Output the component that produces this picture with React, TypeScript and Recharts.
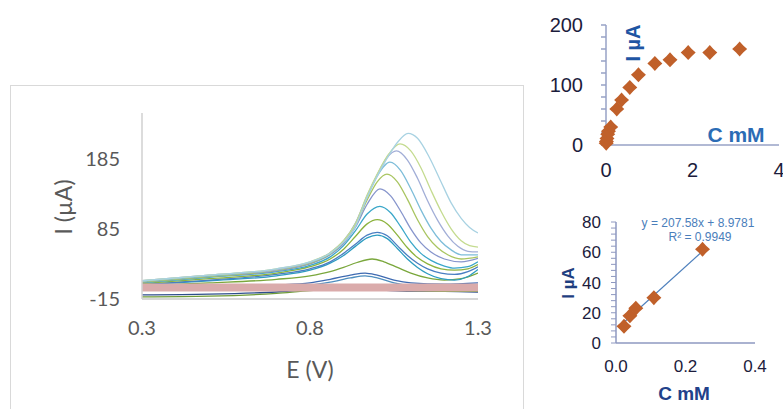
import React from 'react';
import { LineChart, Line, XAxis, YAxis, ScatterChart, Scatter, ComposedChart } from 'recharts';

// ---- main voltammogram (E in V, I in µA) ----
const eTicks = [0.3, 0.8, 1.3];
const iTicks = [-15, 85, 185];

const lightBlueE = [0.3, 0.5, 0.7, 0.8, 0.86, 0.9, 0.935, 0.97, 1.0, 1.03, 1.06, 1.092, 1.12, 1.155, 1.187, 1.22, 1.25, 1.275, 1.3];
const lightBlueI = [11, 19, 28, 38, 50, 66, 88, 130, 160, 186, 208, 221, 214, 187, 155, 122, 100, 87, 79];

const lightGreenE = [0.3, 0.5, 0.7, 0.8, 0.86, 0.9, 0.935, 0.97, 1.0, 1.035, 1.068, 1.1, 1.13, 1.16, 1.19, 1.22, 1.25, 1.275, 1.3];
const lightGreenI = [11, 19, 28, 38, 51, 68, 92, 133, 163, 192, 206, 196, 172, 140, 110, 85, 68, 61, 59];

const lavenderE = [0.3, 0.5, 0.7, 0.8, 0.86, 0.9, 0.935, 0.97, 1.0, 1.03, 1.057, 1.09, 1.12, 1.15, 1.18, 1.21, 1.24, 1.27, 1.3];
const lavenderI = [11, 19, 27, 37, 51, 68, 93, 132, 162, 187, 196, 183, 157, 125, 97, 75, 60, 53, 52];

const skyE = [0.3, 0.5, 0.7, 0.8, 0.86, 0.9, 0.935, 0.97, 1.0, 1.038, 1.07, 1.1, 1.13, 1.16, 1.19, 1.22, 1.25, 1.3];
const skyI = [10, 18, 27, 37, 50, 67, 92, 130, 160, 180, 168, 142, 112, 86, 67, 55, 48, 48];

const yellowGreenE = [0.3, 0.5, 0.7, 0.8, 0.86, 0.9, 0.935, 0.97, 1.0, 1.029, 1.06, 1.09, 1.12, 1.15, 1.18, 1.21, 1.25, 1.3];
const yellowGreenI = [9, 17, 26, 36, 49, 66, 90, 126, 152, 163, 152, 127, 98, 74, 58, 48, 42, 45];

const purpleBlueE = [0.3, 0.5, 0.7, 0.8, 0.86, 0.9, 0.935, 0.97, 1.008, 1.04, 1.07, 1.1, 1.13, 1.16, 1.2, 1.25, 1.3];
const purpleBlueI = [9, 17, 25, 35, 48, 64, 87, 120, 142, 132, 110, 85, 65, 52, 42, 38, 43];

const tealE = [0.3, 0.5, 0.7, 0.8, 0.86, 0.9, 0.935, 0.97, 1.008, 1.04, 1.07, 1.1, 1.13, 1.16, 1.2, 1.23, 1.27, 1.3];
const tealI = [8, 16, 24, 33, 45, 61, 82, 106, 117, 108, 88, 66, 50, 40, 32, 29, 31, 38];

const oliveE = [0.3, 0.5, 0.7, 0.8, 0.86, 0.9, 0.935, 0.97, 1.0, 1.03, 1.06, 1.09, 1.12, 1.15, 1.19, 1.23, 1.27, 1.3];
const oliveI = [7, 14, 22, 31, 42, 56, 74, 92, 98, 92, 76, 58, 44, 35, 28, 26, 28, 34];

const blueE = [0.3, 0.5, 0.7, 0.8, 0.86, 0.9, 0.935, 0.97, 1.0, 1.03, 1.06, 1.09, 1.12, 1.15, 1.19, 1.23, 1.27, 1.3];
const blueI = [6, 12, 20, 28, 38, 50, 63, 76, 80, 75, 61, 47, 36, 28, 22, 20, 24, 31];

const tealBlueE = [0.3, 0.5, 0.7, 0.8, 0.86, 0.9, 0.935, 0.97, 1.0, 1.03, 1.06, 1.09, 1.12, 1.15, 1.19, 1.23, 1.27, 1.3];
const tealBlueI = [5, 11, 18, 26, 36, 47, 60, 72, 76, 71, 57, 42, 30, 21, 14, 12, 17, 27];

const greenE = [0.3, 0.5, 0.7, 0.8, 0.86, 0.9, 0.94, 0.985, 1.02, 1.06, 1.1, 1.15, 1.2, 1.25, 1.3];
const greenI = [4, 8, 13, 18, 24, 30, 37, 42, 38, 30, 22, 15, 12, 14, 22];

const darkBlueE = [0.3, 0.5, 0.7, 0.8, 0.86, 0.92, 0.964, 1.0, 1.05, 1.1, 1.2, 1.3];
const darkBlueI = [0, 2, 5, 8, 13, 19, 22, 19, 12, 8, 6, 8];

const blueGreyE = [0.3, 0.5, 0.7, 0.8, 0.86, 0.92, 0.964, 1.0, 1.05, 1.1, 1.2, 1.3];
const blueGreyI = [-2, 0, 3, 5, 9, 15, 18, 15, 8, 4, 2, 3];

const navyE = [0.3, 0.5, 0.7, 0.8, 0.9, 1.0, 1.1, 1.2, 1.3];
const navyI = [-9, -8, -5, -2, -1, -2, -4, -4, -5];

const oliveLowE = [0.3, 0.5, 0.7, 0.8, 0.9, 1.0, 1.1, 1.2, 1.3];
const oliveLowI = [-12, -11, -7, -3, -1, -2, -3, -4, -4];

const blankE = [0.3, 0.8, 1.3];
const blankI = [1.5, 1.5, 1.5];

// ---- top right: full concentration range ----
const fullC = [0.005, 0.01, 0.023, 0.04, 0.057, 0.109, 0.249, 0.36, 0.55, 0.75, 1.13, 1.48, 1.9, 2.4, 3.09];
const fullI = [3, 6, 11, 18, 23, 30, 60, 75, 96, 117, 136, 142, 154, 154, 160];
const fullYTicks = [0, 20, 40, 60, 80, 100, 120, 140, 160, 180, 200];

// ---- bottom right: linear range ----
const linC = [0.023, 0.04, 0.057, 0.109, 0.249];
const linI = [11, 18, 23, 30, 62];
const linYTicks = [0, 4, 8, 12, 16, 20, 24, 28, 32, 36, 40, 44, 48, 52, 56, 60, 64, 68, 72, 76, 80];
const slope = 207.58;
const intercept = 8.9781;

const toPts = (e: number[], i: number[]) => e.map((v, k) => ({ e: v, i: i[k] }));

const curves = [
  { name: 'navy', e: navyE, i: navyI, color: '#2E4E8C' },
  { name: 'oliveLow', e: oliveLowE, i: oliveLowI, color: '#6F9B38' },
  { name: 'blueGrey', e: blueGreyE, i: blueGreyI, color: '#4E8DBE' },
  { name: 'darkBlue', e: darkBlueE, i: darkBlueI, color: '#3E6AB1' },
  { name: 'green', e: greenE, i: greenI, color: '#7AA73C' },
  { name: 'tealBlue', e: tealBlueE, i: tealBlueI, color: '#2D9CC1' },
  { name: 'blue', e: blueE, i: blueI, color: '#4A7EC2' },
  { name: 'olive', e: oliveE, i: oliveI, color: '#8DB33E' },
  { name: 'teal', e: tealE, i: tealI, color: '#3BA7C9' },
  { name: 'purpleBlue', e: purpleBlueE, i: purpleBlueI, color: '#8795CC' },
  { name: 'yellowGreen', e: yellowGreenE, i: yellowGreenI, color: '#A9C561' },
  { name: 'sky', e: skyE, i: skyI, color: '#7DBDD9' },
  { name: 'lavender', e: lavenderE, i: lavenderI, color: '#A2AED7' },
  { name: 'lightGreen', e: lightGreenE, i: lightGreenI, color: '#C4DB8F' },
  { name: 'lightBlue', e: lightBlueE, i: lightBlueI, color: '#A8D2E2' },
];

function Txt({ x, y, size, color, bold, rotate, font, children }: any) {
  return (
    <div
      style={{
        position: 'absolute',
        left: x,
        top: y,
        transform: `translate(-50%, -50%)${rotate ? ` rotate(${rotate}deg)` : ''}`,
        fontSize: size,
        lineHeight: 1,
        color,
        fontWeight: bold ? 700 : 400,
        fontFamily: font,
        whiteSpace: 'nowrap',
      }}
    >
      {children}
    </div>
  );
}

function Diamond(props: any) {
  const { cx, cy } = props;
  if (cx == null || cy == null) return null;
  const r = 7.5;
  const k = 3.6;
  const d = `M${cx},${cy - r} L${cx + k},${cy - k} L${cx + r},${cy} L${cx + k},${cy + k} L${cx},${cy + r} L${cx - k},${cy + k} L${cx - r},${cy} L${cx - k},${cy - k} Z`;
  return <path d={d} fill="#C0602A" />;
}

const mainFont = 'Lato, "Open Sans", sans-serif';
const sideFont = '"Liberation Sans", Arial, sans-serif';

export default function App() {
  const fullData = fullC.map((c, k) => ({ c, i: fullI[k] }));
  const linData = linC.map((c, k) => ({ c, i: linI[k] }));
  const trendData = [linC[0], linC[linC.length - 1]].map((c) => ({ c, t: slope * c + intercept }));

  return (
    <div style={{ position: 'fixed', left: 0, top: 0, width: 783, height: 409, overflow: 'hidden', background: '#fff' }}>
      {/* frame round the main chart */}
      <div style={{ position: 'absolute', left: 10, top: 85, width: 512, height: 340, border: '1px solid #D9D9D9' }} />

      <div style={{ position: 'absolute', left: 0, top: 0 }}>
        <LineChart width={520} height={340} margin={{ top: 113, right: 42, bottom: 11, left: 82 }}>
          <XAxis
            type="number"
            dataKey="e"
            domain={[0.3, 1.3]}
            ticks={eTicks}
            interval={0}
            allowDataOverflow
            height={30}
            tickLine={false}
            tickSize={0}
            tickMargin={22}
            axisLine={{ stroke: '#D6D6D6', strokeWidth: 2 }}
            tick={{ fill: '#595959', fontSize: 20, fontFamily: mainFont }}
          />
          <YAxis
            type="number"
            dataKey="i"
            domain={[-15, 250]}
            ticks={iTicks}
            interval={0}
            allowDataOverflow
            width={60}
            tickLine={false}
            tickSize={0}
            tickMargin={22}
            axisLine={{ stroke: '#D0D0D0', strokeWidth: 1.5 }}
            tick={{ fill: '#595959', fontSize: 20, fontFamily: mainFont }}
          />
          {curves.map((c) => (
            <Line
              key={c.name}
              data={toPts(c.e, c.i)}
              dataKey="i"
              type="monotone"
              stroke={c.color}
              strokeWidth={1.3}
              dot={false}
              isAnimationActive={false}
            />
          ))}
          <Line
            data={toPts(blankE, blankI)}
            dataKey="i"
            type="linear"
            stroke="#DAABAB"
            strokeWidth={8}
            dot={false}
            isAnimationActive={false}
          />
        </LineChart>
      </div>
      <Txt x={63} y={207} size={23} color="#595959" rotate={-90} font={mainFont}>I (µA)</Txt>
      <Txt x={310} y={369} size={23} color="#595959" font={mainFont}>E (V)</Txt>

      {/* top right */}
      <div style={{ position: 'absolute', left: 540, top: 0 }}>
        <ScatterChart width={260} height={200} margin={{ top: 25, right: 21, bottom: 25, left: 26 }}>
          <XAxis
            type="number"
            dataKey="c"
            domain={[0, 4]}
            ticks={[0, 2, 4]}
            interval={0}
            height={30}
            tickLine={false}
            tickSize={0}
            tickMargin={18}
            axisLine={{ stroke: '#97A2C6', strokeWidth: 1.5 }}
            tick={{ fill: '#1C1C3C', fontSize: 20, fontFamily: sideFont }}
          />
          <YAxis
            type="number"
            dataKey="i"
            domain={[0, 200]}
            ticks={fullYTicks}
            interval={0}
            tickFormatter={(v: number) => (v % 100 === 0 ? String(v) : '')}
            width={40}
            tickSize={5}
            tickMargin={18}
            tickLine={{ stroke: '#97A2C6', strokeWidth: 1.5 }}
            axisLine={{ stroke: '#97A2C6', strokeWidth: 1.5 }}
            tick={{ fill: '#1C1C3C', fontSize: 20, fontFamily: sideFont }}
          />
          <Scatter data={fullData} shape={<Diamond />} isAnimationActive={false} />
        </ScatterChart>
      </div>
      <Txt x={633} y={43} size={20} color="#1E55A3" bold rotate={-90} font={sideFont}>I µA</Txt>
      <Txt x={736} y={134} size={21} color="#2B6CB5" bold font={sideFont}>C mM</Txt>

      {/* bottom right */}
      <div style={{ position: 'absolute', left: 540, top: 200 }}>
        <ComposedChart width={240} height={209} margin={{ top: 22, right: 25, bottom: 36, left: 36 }}>
          <XAxis
            type="number"
            dataKey="c"
            domain={[0, 0.4]}
            ticks={[0, 0.2, 0.4]}
            interval={0}
            tickFormatter={(v: number) => v.toFixed(1)}
            height={30}
            tickLine={false}
            tickSize={0}
            tickMargin={17}
            axisLine={{ stroke: '#8E98C0', strokeWidth: 1.5 }}
            tick={{ fill: '#1C1C3C', fontSize: 17, fontFamily: sideFont }}
          />
          <YAxis
            type="number"
            domain={[0, 80]}
            ticks={linYTicks}
            interval={0}
            tickFormatter={(v: number) => (v % 20 === 0 ? String(v) : '')}
            width={40}
            tickSize={5}
            tickMargin={10}
            tickLine={{ stroke: '#8E98C0', strokeWidth: 1 }}
            axisLine={{ stroke: '#8E98C0', strokeWidth: 1.5 }}
            tick={{ fill: '#1C1C3C', fontSize: 17, fontFamily: sideFont }}
          />
          <Line
            data={trendData}
            dataKey="t"
            type="linear"
            stroke="#4F81BD"
            strokeWidth={1.2}
            dot={false}
            isAnimationActive={false}
          />
          <Scatter data={linData} dataKey="i" shape={<Diamond />} isAnimationActive={false} />
        </ComposedChart>
      </div>
      <Txt x={698} y={223} size={12} color="#4A7EBB" font={sideFont}>y = 207.58x + 8.9781</Txt>
      <Txt x={700} y={237} size={12} color="#4A7EBB" font={sideFont}>R² = 0.9949</Txt>
      <Txt x={568} y={283} size={17} color="#1F3F80" bold rotate={-90} font={sideFont}>I µA</Txt>
      <Txt x={684} y={393} size={19} color="#22418A" bold font={sideFont}>C mM</Txt>
    </div>
  );
}
